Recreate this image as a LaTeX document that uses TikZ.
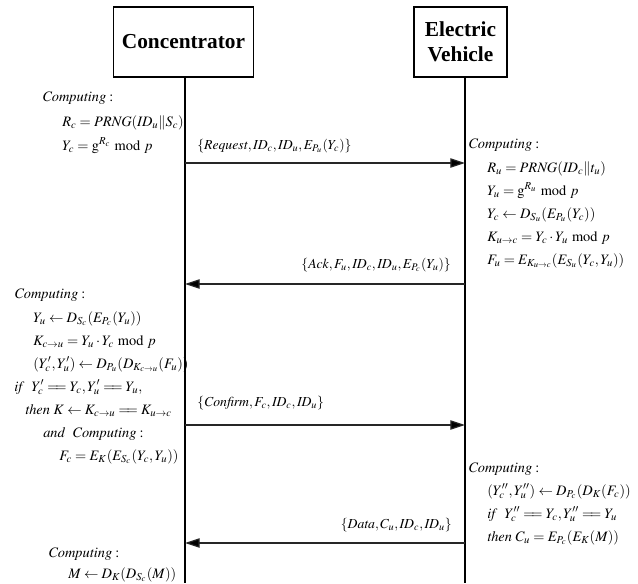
\documentclass[tikz,border=0pt]{standalone}
\usepackage{mathptmx}
\usepackage[no-math]{fontspec}
\setmainfont{Liberation Serif}
\newfontfamily\headfont{Liberation Serif Bold}
\usetikzlibrary{arrows.meta}
\newcommand{\eqq}{\mathrel{=\!\!=}}
\begin{document}
\begin{tikzpicture}[x=0.75pt,y=-0.75pt,
  actor/.style={draw, line width=0.8pt, inner sep=0pt, align=center,
    font=\headfont\fontsize{16}{18.5}\selectfont},
  life/.style={line width=0.8pt},
  msg/.style={line width=0.9pt, draw=black!85, -{Triangle[length=11pt,width=7pt,fill=black]}},
  txt/.style={anchor=base west, inner sep=0pt, font=\fontsize{10.8}{13}\selectfont},
  lab/.style={anchor=base west, inner sep=0pt, font=\fontsize{10.3}{12}\selectfont}]
\useasboundingbox (0,0) rectangle (638,583);

% participants
\node[actor, minimum width=105pt, minimum height=52.5pt] (conc) at (183.5,42) {Concentrator};
\node[actor, minimum width=69.75pt, minimum height=52.5pt] (ev) at (460.5,42) {Electric\\Vehicle};

% lifelines
\coordinate (cTop) at (185,77);
\coordinate (cBot) at (185,583);
\coordinate (eTop) at (465,77);
\coordinate (eBot) at (465,583);
\draw[life] (cTop) -- (cBot);
\draw[life] (eTop) -- (eBot);

% message end points
\coordinate (m1a) at (185,163); \coordinate (m1b) at (465,163);
\coordinate (m2a) at (465,284); \coordinate (m2b) at (185,284);
\coordinate (m3a) at (185,425); \coordinate (m3b) at (465,425);
\coordinate (m4a) at (465,543); \coordinate (m4b) at (185,543);

\draw[msg] (m1a) -- (m1b);
\draw[msg] (m2a) -- (m2b);
\draw[msg] (m3a) -- (m3b);
\draw[msg] (m4a) -- (m4b);

% message labels
\node[lab] (l1) at (197,149) {$\{\mathit{Request},\mathit{ID}_c,\mathit{ID}_u,E_{P_u}(Y_c)\}$};
\node[lab, anchor=base east] (l2) at (451,268) {$\{\mathit{Ack},F_u,\mathit{ID}_c,\mathit{ID}_u,E_{P_c}(Y_u)\}$};
\node[lab] (l3) at (197,406) {$\{\mathit{Confirm},F_c,\mathit{ID}_c,\mathit{ID}_u\}$};
\node[lab, anchor=base east] (l4) at (452,528) {$\{\mathit{Data},C_u,\mathit{ID}_c,\mathit{ID}_u\}$};

% concentrator: initial computation
\node[txt] (a0) at (42,101) {$\mathit{Computing}:$};
\node[txt] (a1) at (62,126) {$R_c=\mathit{PRNG}(\mathit{ID}_u\|S_c)$};
\node[txt] (a2) at (62,150) {$Y_c=\mathrm{g}^{R_c}\bmod p$};

% vehicle: first computation
\node[txt] (b0) at (468,148) {$\mathit{Computing}:$};
\node[txt] (b1) at (487,172) {$R_u=\mathit{PRNG}(\mathit{ID}_c\|t_u)$};
\node[txt] (b2) at (487,195) {$Y_u=\mathrm{g}^{R_u}\bmod p$};
\node[txt] (b3) at (487,218) {$Y_c\leftarrow D_{S_u}(E_{P_u}(Y_c))$};
\node[txt] (b4) at (487,241) {$K_{u\to c}=Y_c\cdot Y_u\bmod p$};
\node[txt] (b5) at (487,264) {$F_u=E_{K_{u\to c}}(E_{S_u}(Y_c,Y_u))$};

% concentrator: verification
\node[txt] (c0) at (14,298) {$\mathit{Computing}:$};
\node[txt] (c1) at (33,322) {$Y_u\leftarrow D_{S_c}(E_{P_c}(Y_u))$};
\node[txt] (c2) at (33,345) {$K_{c\to u}=Y_u\cdot Y_c\bmod p$};
\node[txt] (c3) at (33,368) {$(Y'_c,Y'_u)\leftarrow D_{P_u}(D_{K_{c\to u}}(F_u))$};
\node[txt] (c4) at (14,391) {$\mathit{if}\ \ Y'_c\eqq Y_c,Y'_u\eqq Y_u,$};
\node[txt] (c5) at (25,414) {$\mathit{then}\ K\leftarrow K_{c\to u}\eqq K_{u\to c}$};
\node[txt] (c6) at (43,437) {$\mathit{and}\ \ \mathit{Computing}:$};
\node[txt] (c7) at (59,460) {$F_c=E_K(E_{S_c}(Y_c,Y_u))$};

% vehicle: second computation
\node[txt] (d0) at (468,472) {$\mathit{Computing}:$};
\node[txt] (d1) at (487,495) {$(Y''_c,Y''_u)\leftarrow D_{P_c}(D_K(F_c))$};
\node[txt] (d2) at (487,518) {$\mathit{if}\ \ Y''_c\eqq Y_c,Y''_u\eqq Y_u$};
\node[txt] (d3) at (487,541) {$\mathit{then}\ C_u=E_{P_c}(E_K(M))$};

% concentrator: final computation
\node[txt] (e0) at (48,557) {$\mathit{Computing}:$};
\node[txt] (e1) at (68,578) {$M\leftarrow D_K(D_{S_c}(M))$};
\end{tikzpicture}
\end{document}
